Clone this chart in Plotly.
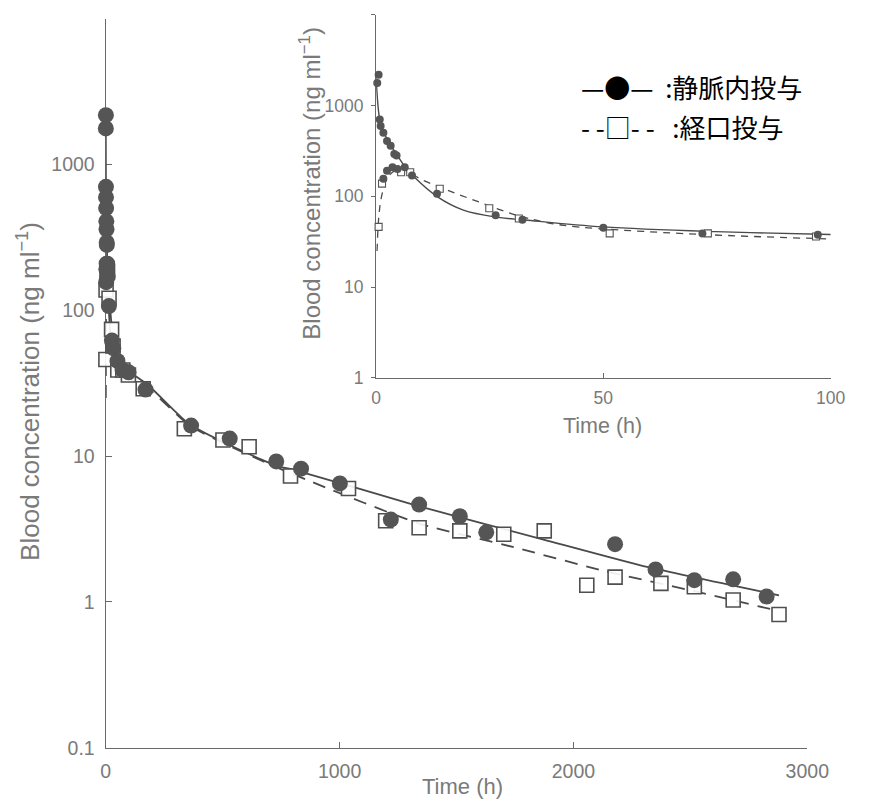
import numpy as np
import plotly.graph_objects as go

# Blood concentration after intravenous (IV) and oral (PO) dosing
t_iv = [0.25, 0.55, 0.8, 1.0, 1.6, 2.4, 3.2, 4.0, 4.5,
        1.6, 2.4, 3.6, 4.7, 6.3, 7.9, 13.4, 26.3, 32.2, 50, 71.8, 97.2,
        170, 365, 530, 729, 835, 1001, 1219, 1340, 1514, 1627,
        2178, 2351, 2517, 2683, 2826]
c_iv = [1770, 2180, 703, 596, 503, 408, 360, 292, 281,
        156, 191, 209, 200, 209, 170, 107, 62, 55, 45, 39, 37.6,
        28.6, 16.2, 13.2, 9.2, 8.2, 6.5, 3.67, 4.65, 3.87, 3.0,
        2.49, 1.67, 1.41, 1.43, 1.09]

t_po = [0.55, 1.3, 5.5, 7.5, 14, 24.9, 31.4, 51.4, 73, 96.8,
        160, 336, 501, 613, 790, 1038, 1197, 1340, 1514, 1702, 1875,
        2057, 2178, 2374, 2517, 2683, 2879]
c_po = [46, 138, 184, 184, 121, 74, 57, 39, 39, 36,
        29, 15.4, 12.9, 11.6, 7.3, 6.0, 3.6, 3.23, 3.07, 2.91, 3.07,
        1.30, 1.48, 1.34, 1.27, 1.03, 0.82]

# Fitted curves
fit_iv_t = [0, 0.5, 1, 2, 3, 4.5, 6.2, 8.5, 13.6, 19.2, 26.4, 32.8, 50, 74.7, 100,
            178, 356, 493, 729, 812, 1340, 1868, 2320, 2879]
fit_iv_c = [2000, 900, 620, 470, 380, 290, 217, 161, 98, 70.5, 59, 54.8, 46, 40.8, 38,
            31, 16.6, 12.7, 8.6, 8.0, 4.53, 2.69, 1.73, 1.11]
fit_po_t = [0.2, 0.6, 1.2, 2.5, 4, 5.5, 7, 10, 15.8, 22.8, 29.9, 33.5, 40.7, 58.9, 99.2,
            178, 356, 493, 729, 857, 1340, 1747, 2132, 2502, 2860]
fit_po_c = [25, 60, 100, 160, 190, 200, 188, 153, 116, 86, 64, 57, 48.3, 41, 34,
            29.5, 16.3, 12.5, 8.4, 6.9, 3.45, 2.37, 1.63, 1.2, 0.88]

main_xticks = [0, 1000, 2000, 3000]
main_yticks = [0.1, 1, 10, 100, 1000]
main_yticktext = ["0.1", "1", "10", "100", "1000"]
inset_xticks = [0, 50, 100]
inset_yticks = [1, 10, 100, 1000]
inset_yticktext = ["1", "10", "100", "1000"]
top_tick = [10000]  # unlabelled tick at the top of each y axis

W, H = 870, 812
GRAY = "#7a7a7a"
AXIS = "#6a6a6a"
MARK = "#555555"
LINE = "#4a4a4a"
FONT = "Liberation Sans, Arial, sans-serif"


def px(x):
    return x / W


def py(y):
    return 1 - y / H


fig = go.Figure()

# main panel
fig.add_trace(go.Scatter(x=fit_iv_t, y=fit_iv_c, mode="lines", xaxis="x", yaxis="y",
                         line=dict(color=LINE, width=1.8, shape="spline", smoothing=0.6),
                         showlegend=False, hoverinfo="skip"))
fig.add_trace(go.Scatter(x=fit_po_t, y=fit_po_c, mode="lines", xaxis="x", yaxis="y",
                         line=dict(color=LINE, width=1.8, dash="13px,9px", shape="spline", smoothing=0.6),
                         showlegend=False, hoverinfo="skip"))
fig.add_trace(go.Scatter(x=t_po, y=c_po, mode="markers", xaxis="x", yaxis="y", cliponaxis=False,
                         marker=dict(symbol="square", size=14, color="rgba(255,255,255,0.9)",
                                     line=dict(color="#4f4f4f", width=1.6)),
                         showlegend=False))
fig.add_trace(go.Scatter(x=t_iv, y=c_iv, mode="markers", xaxis="x", yaxis="y", cliponaxis=False,
                         marker=dict(symbol="circle", size=16, color=MARK, line=dict(width=0)),
                         showlegend=False))

# inset panel (first 100 h)
t_iv_a, c_iv_a = np.array(t_iv), np.array(c_iv)
t_po_a, c_po_a = np.array(t_po), np.array(c_po)
m_iv = t_iv_a <= 100
m_po = t_po_a <= 100
fig.add_trace(go.Scatter(x=fit_iv_t, y=fit_iv_c, mode="lines", xaxis="x2", yaxis="y2",
                         line=dict(color=LINE, width=1.4, shape="spline", smoothing=1.0),
                         showlegend=False, hoverinfo="skip"))
fig.add_trace(go.Scatter(x=fit_po_t, y=fit_po_c, mode="lines", xaxis="x2", yaxis="y2",
                         line=dict(color=LINE, width=1.3, dash="7px,6px", shape="spline", smoothing=1.0),
                         showlegend=False, hoverinfo="skip"))
fig.add_trace(go.Scatter(x=t_po_a[m_po], y=c_po_a[m_po], mode="markers", xaxis="x2", yaxis="y2",
                         cliponaxis=False,
                         marker=dict(symbol="square", size=7, color="white",
                                     line=dict(color="#555555", width=1.1)),
                         showlegend=False))
fig.add_trace(go.Scatter(x=t_iv_a[m_iv], y=c_iv_a[m_iv], mode="markers", xaxis="x2", yaxis="y2",
                         cliponaxis=False,
                         marker=dict(symbol="circle", size=8, color=MARK, line=dict(width=0)),
                         showlegend=False))

axis_common = dict(showline=True, linecolor=AXIS, linewidth=1.4, showgrid=False, zeroline=False,
                   tickcolor=AXIS, tickwidth=1.2, layer="below traces")

fig.update_layout(
    width=W, height=H, autosize=False,
    margin=dict(l=0, r=0, t=0, b=0),
    paper_bgcolor="white", plot_bgcolor="rgba(0,0,0,0)",
    xaxis=dict(domain=[px(104), px(828)], range=[0, 3000], anchor="y",
               tickvals=main_xticks, ticks="inside", ticklen=6, ticklabelstandoff=6,
               tickfont=dict(family=FONT, color=GRAY, size=19.5), **axis_common),
    yaxis=dict(domain=[py(758), py(19)], type="log", range=[-1, 4], anchor="x",
               tickvals=main_yticks, ticktext=main_yticktext, ticks="inside", ticklen=6,
               ticklabelstandoff=6,
               minor=dict(tickvals=top_tick, ticks="inside", ticklen=6, tickcolor=AXIS),
               tickfont=dict(family=FONT, color=GRAY, size=19.5), **axis_common),
    xaxis2=dict(domain=[px(383), px(852)], range=[0, 100], anchor="y2",
                tickvals=inset_xticks, ticks="inside", ticklen=5, ticklabelstandoff=4,
                tickfont=dict(family=FONT, color=GRAY, size=17.5), **axis_common),
    yaxis2=dict(domain=[py(383), py(15)], type="log", range=[0, 4], anchor="x2",
                tickvals=inset_yticks, ticktext=inset_yticktext, ticks="outside", ticklen=4,
                ticklabelstandoff=4,
                minor=dict(tickvals=top_tick, ticks="outside", ticklen=4, tickcolor=AXIS),
                tickfont=dict(family=FONT, color=GRAY, size=17.5), **axis_common),
)

ylab = "Blood concentration (ng ml<sup>−1</sup>)"
annotations = [
    dict(text=ylab, x=px(24), y=py(397), textangle=-90, font=dict(family=FONT, size=26, color=GRAY)),
    dict(text="Time (h)", x=px(472), y=py(797), font=dict(family=FONT, size=22, color=GRAY)),
    dict(text=ylab, x=px(315), y=py(186), textangle=-90, font=dict(family=FONT, size=24, color=GRAY)),
    dict(text="Time (h)", x=px(617), y=py(432), font=dict(family=FONT, size=21.5, color=GRAY)),
    dict(text="—●—  :静脈内投与", x=px(592), y=py(88), xanchor="left",
         font=dict(family="Noto Sans CJK JP", size=26, color="black")),
    dict(text="- -□- -   :経口投与", x=px(592), y=py(128), xanchor="left",
         font=dict(family="Noto Sans CJK JP", size=26, color="black")),
]
for a in annotations:
    a.setdefault("xanchor", "center")
    a.update(xref="paper", yref="paper", yanchor="middle", showarrow=False)
fig.update_layout(annotations=annotations)

fig.write_html("out.html")
